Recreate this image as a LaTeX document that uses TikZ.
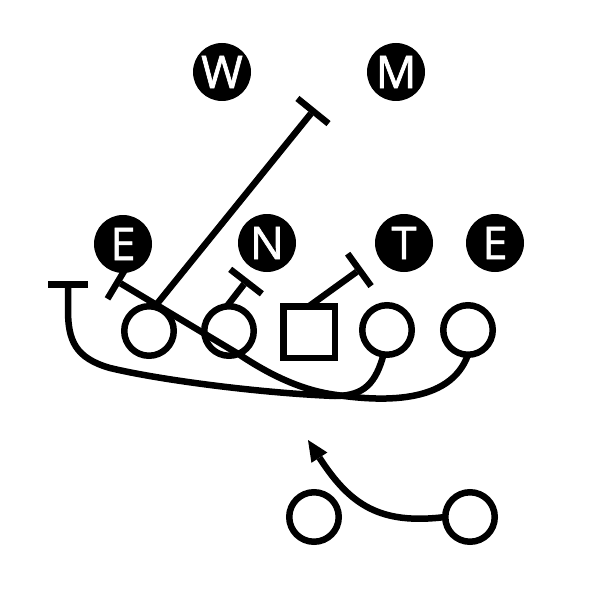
\documentclass[tikz,border=0pt]{standalone}
\usepackage{fontspec}
\newfontfamily\lbl{Open Sans}[FakeBold=1.5]
\usetikzlibrary{arrows.meta}
\begin{document}
\begin{tikzpicture}[x=1pt,y=-1pt, line width=6.5pt,
  def/.style={circle,fill=black,minimum size=58pt,inner sep=0pt,outer sep=0pt,text=white,font=\lbl\fontsize{45}{45}\selectfont},
  off/.style={circle,draw=black,fill=white,minimum size=49.5pt,inner sep=0pt,outer sep=0pt},
  ctr/.style={rectangle,draw=black,fill=white,minimum size=51.5pt,inner sep=0pt,outer sep=0pt},
  route/.style={draw=black,line cap=butt},
  blk/.style={route,-{Rectangle[length=6.5pt,width=40pt,line width=0pt]}},
  arr/.style={route,-{Triangle[length=21pt,width=19pt,line width=0pt]}}
]
\fill[white] (0,0) rectangle (594,596);
\useasboundingbox (0,0) rectangle (594,596);
% defense
\node[def] (W) at (222,72) {W};
\node[def] (M) at (396,72) {M};
\node[def] (E1) at (123,244) {E};
\node[def] (N) at (267,243) {N};
\node[def] (T) at (404,243) {T};
\node[def] (E2) at (495,243) {E};
% offense
\node[off] (o1) at (149,331) {};
\node[off] (o2) at (229,331) {};
\node[ctr] (c) at (309,332) {};
\node[off] (o3) at (387,330) {};
\node[off] (o4) at (468,330) {};
\node[off] (bL) at (314,517) {};
\node[off] (bR) at (470,517) {};
% route ends
\coordinate (kW) at (315,108.5);
\coordinate (kN) at (248,279);
\coordinate (kT) at (362,268);
\coordinate (kE) at (115,280);
\coordinate (kL) at (68,281);
\coordinate (aH) at (308,440);
% routes
\draw[blk] (o1.77) -- (kW);
\draw[blk] (o2.95) -- (kN);
\draw[blk] (c.north) -- (kT);
\draw[blk] (o4.south) .. controls (450,405) and (380,402) .. (330,394)
  .. controls (300,389) and (270,375) .. (240,355) -- (kE);
\draw[blk] (o3.-98) .. controls (376,382) and (365,396) .. (335,396)
  .. controls (260,393) and (160,380) .. (110,368)
  .. controls (75,358) and (68,340) .. (68,310) -- (kL);
\draw[arr] (bR.west) .. controls (380,525) and (350,505) .. (aH);
\end{tikzpicture}
\end{document}
